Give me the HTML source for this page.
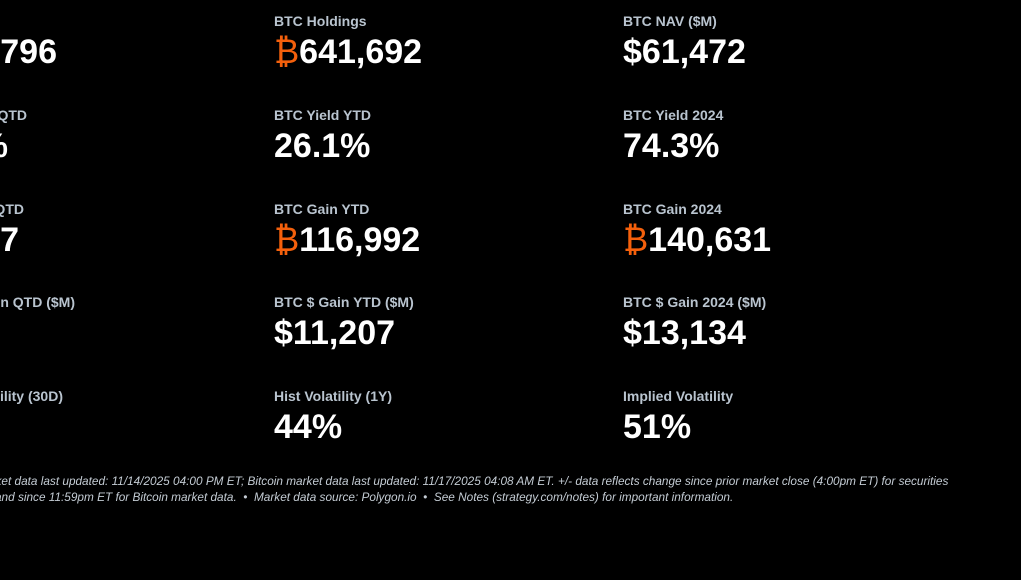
<!DOCTYPE html>
<html><head><meta charset="utf-8"><style>
html,body{margin:0;padding:0;background:#000;width:1021px;height:580px;overflow:hidden;position:relative;font-family:"Liberation Sans",sans-serif}
.l{position:absolute;color:#b9c4cf;font-size:14px;font-weight:bold;white-space:nowrap;line-height:16px}
.v{position:absolute;color:#fff;font-size:34px;font-weight:bold;white-space:nowrap;line-height:36px}
.r{text-align:right}
.o{color:#f4600c;font-weight:normal}
.f{position:absolute;color:#c4ccd4;font-size:11.8px;font-style:italic;white-space:nowrap;line-height:13px}
</style></head><body>
<div class="v r" style="right:964px;top:34px">$111,796</div>
<div class="l r" style="right:994px;top:107px">BTC Yield QTD</div>
<div class="v r" style="right:1013px;top:128px">4.1%</div>
<div class="l r" style="right:997px;top:201px">BTC Gain QTD</div>
<div class="v r" style="right:1002px;top:222px">₿7,417</div>
<div class="l r" style="right:946px;top:294px">BTC $ Gain QTD ($M)</div>
<div class="l r" style="right:958px;top:388px">Hist Volatility (30D)</div>

<div class="l" style="left:274px;top:13px">BTC Holdings</div>
<div class="v" style="left:274px;top:34px"><span class="o">₿</span>641,692</div>
<div class="l" style="left:274px;top:107px">BTC Yield YTD</div>
<div class="v" style="left:274px;top:128px">26.1%</div>
<div class="l" style="left:274px;top:201px">BTC Gain YTD</div>
<div class="v" style="left:274px;top:222px"><span class="o">₿</span>116,992</div>
<div class="l" style="left:274px;top:294px">BTC $ Gain YTD ($M)</div>
<div class="v" style="left:274px;top:315px">$11,207</div>
<div class="l" style="left:274px;top:388px">Hist Volatility (1Y)</div>
<div class="v" style="left:274px;top:409px">44%</div>

<div class="l" style="left:623px;top:13px">BTC NAV ($M)</div>
<div class="v" style="left:623px;top:34px">$61,472</div>
<div class="l" style="left:623px;top:107px">BTC Yield 2024</div>
<div class="v" style="left:623px;top:128px">74.3%</div>
<div class="l" style="left:623px;top:201px">BTC Gain 2024</div>
<div class="v" style="left:623px;top:222px"><span class="o">₿</span>140,631</div>
<div class="l" style="left:623px;top:294px">BTC $ Gain 2024 ($M)</div>
<div class="v" style="left:623px;top:315px">$13,134</div>
<div class="l" style="left:623px;top:388px">Implied Volatility</div>
<div class="v" style="left:623px;top:409px">51%</div>

<div class="f" style="top:475px;left:-15px">arket data last updated: 11/14/2025 04:00 PM ET; Bitcoin market data last updated: 11/17/2025 04:08 AM ET. +/- data reflects change since prior market close (4:00pm ET) for securities</div>
<div class="f" style="top:491px;left:-5px">and since 11:59pm ET for Bitcoin market data. &nbsp;•&nbsp; Market data source: Polygon.io &nbsp;•&nbsp; See Notes (strategy.com/notes) for important information.</div>
</body></html>
